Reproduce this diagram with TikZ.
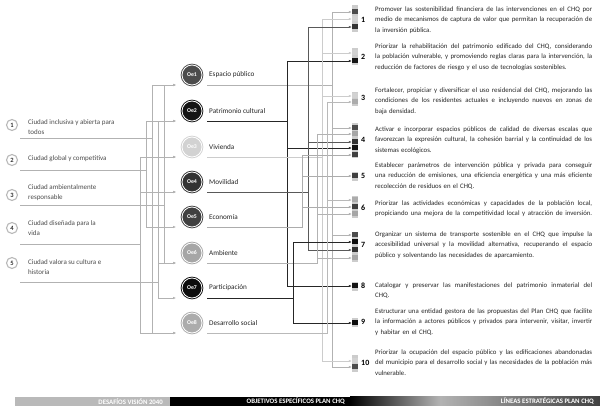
\documentclass[tikz,border=0pt]{standalone}
\usepackage{fontspec}
\setmainfont{Carlito}
\usetikzlibrary{arrows.meta}
\newcommand{\jlin}[1]{{\spaceskip=0pt\xspaceskip=0pt\makebox[217pt][s]{#1}}}
\colorlet{oc1}{black!70}
\colorlet{oc2}{black!92}
\colorlet{oc3}{gray!35}
\colorlet{oc4}{black!80}
\colorlet{oc5}{black!75}
\colorlet{oc6}{gray!70}
\colorlet{oc7}{black!95}
\colorlet{oc8}{gray!65}
\colorlet{lcol1}{gray!60}
\colorlet{lcol2}{black!85}
\colorlet{lcol3}{gray!40}
\colorlet{lcol4}{black!65}
\colorlet{lcol5}{gray!65}
\colorlet{lcol6}{gray!60}
\colorlet{lcol7}{black!85}
\colorlet{lcol8}{gray!55}
\begin{document}
\begin{tikzpicture}[x=1pt,y=-1pt,
 dcirc/.style={circle, draw=gray!55, line width=1.1pt, fill=white, minimum size=11pt, inner sep=0pt, font=\fontsize{6.5}{6.5}\selectfont\bfseries, text=black!80},
 dlab/.style={anchor=west, align=left, font=\fontsize{7}{10}\selectfont, text=black!70, inner sep=0pt},
 oec/.style={circle, fill=#1, draw=#1, line width=0.9pt, double=white, double distance=0.8pt, minimum size=20pt, inner sep=0pt, text=white, font=\fontsize{5.8}{6}\selectfont\bfseries},
 oelab/.style={anchor=west, font=\fontsize{7.2}{8}\selectfont, text=black!85, inner sep=0pt},
 bar/.style={rectangle, fill=gray!40, minimum width=6pt, inner sep=0pt},
 cell/.style={rectangle, fill=#1, minimum width=6pt, minimum height=5pt, inner sep=0pt},
 num/.style={anchor=west, font=\fontsize{8}{8}\selectfont\bfseries, inner sep=0pt},
 para/.style={anchor=north west, text width=218pt, align=left, font=\fontsize{6.8}{10.8}\selectfont, text=black!85, inner sep=0pt},
 bartxt/.style={anchor=east, font=\fontsize{6.8}{7}\selectfont\bfseries, text=white, inner sep=0pt},
 tip/.style={-{Latex[length=3pt,width=2.4pt]}},
 lc/.style={draw=#1, line width=0.45pt},
]
\fill[white] (0,0) rectangle (600,411);
\useasboundingbox (0,0) rectangle (600,411);

% ---- challenges (left)
\foreach \i/\y in {1/125,2/160,3/195,4/228,5/263}
  \node[dcirc] (dc\i) at (12,\y) {\i};
\node[dlab] (dt1) at (28,127) {Ciudad inclusiva y abierta para\\todos};
\node[dlab] (dt2) at (28,159) {Ciudad global y competitiva};
\node[dlab] (dt3) at (28,193) {Ciudad ambientalmente\\responsable};
\node[dlab] (dt4) at (28,228) {Ciudad diseñada para la\\vida};
\node[dlab] (dt5) at (28,267) {Ciudad valora su cultura e\\historia};
\foreach \d/\y/\x in {1/138/152, 2/170/146, 3/205/164, 4/244/140, 5/282/158} {
  \coordinate (ds\d) at (20,\y);
  \coordinate (lt\d) at (\x,0);
}

% ---- objectives (middle)
\foreach \i/\y/\lab in {1/75/Espacio público, 2/111/Patrimonio cultural, 3/147/Vivienda, 4/182/Movilidad, 5/217/Economía, 6/253/Ambiente, 7/288/Participación, 8/323/Desarrollo social} {
  \node[oec=oc\i] (oe\i) at (192,\y) {Oe\i};
  \node[oelab] (ol\i) at (209,\y) {\lab};
  \coordinate (os\i) at (207,\y+10);
  \coordinate (oi\i) at (176,\y+10);
}
\foreach \i/\x in {1/332,2/287,3/322,4/308,5/302,6/317,7/293,8/327}
  \coordinate (rt\i) at (\x,0);

% left connectors
\foreach \d/\o in {1/1,1/3,1/8,2/2,2/4,2/5,3/1,3/6,4/4,4/8,4/3,5/2,5/7,5/6}
  \draw[lc=gray!60, tip] (ds\d) -- (ds\d -| lt\d) |- (oi\o);

% ---- strategic lines (right)
\foreach \b/\y/\h in {1/18.5/27, 2/56.5/17, 3/99/14, 4/140.5/35, 5/176.5/9, 6/207/22, 7/247/30, 8/286.5/9, 9/322.5/9, 10/363.5/17}
  \node[bar, minimum height=\h pt] (b\b) at (355,\y) {};
\foreach \b/\y in {1/20,2/57,3/98,4/140,5/176,6/208,7/245,8/286,9/322,10/363}
  \node[num] (n\b) at (361,\y) {\b};

\foreach \o/\b/\t in {1/1/12, 1/4/128, 1/7/235, 1/10/367, 2/2/61, 2/4/148, 2/8/286, 3/1/19, 3/2/53, 3/3/96, 3/10/361, 4/1/27, 4/4/142, 4/7/250, 5/4/155, 5/5/176, 5/6/207, 6/4/134, 6/6/214, 6/7/258, 7/7/242, 7/9/323, 8/3/102, 8/6/200} {
  \node[cell=oc\o] (c\b-\t) at (355,\t) {};
  \draw[lc=lcol\o, tip] (os\o) -- (os\o -| rt\o) |- (c\b-\t.west);
}

\node[para] (p1) at (375,3.4) {\strut\jlin{Promover las sostenibilidad financiera de las intervenciones en el CHQ por}\\\jlin{medio de mecanismos de captura de valor que permitan la recuperación de}\\la inversión pública.};
\node[para] (p2) at (375,40.4) {\strut\jlin{Priorizar la rehabilitación del patrimonio edificado del CHQ, considerando}\\\jlin{la población vulnerable, y promoviendo reglas claras para la intervención, la}\\reducción de factores de riesgo y el uso de tecnologías sostenibles.};
\node[para] (p3) at (375,84.4) {\strut\jlin{Fortalecer, propiciar y diversificar el uso residencial del CHQ, mejorando las}\\\jlin{condiciones de los residentes actuales e incluyendo nuevos en zonas de}\\baja densidad.};
\node[para] (p4) at (375,123.4) {\strut\jlin{Activar e incorporar espacios públicos de calidad de diversas escalas que}\\\jlin{favorezcan la expresión cultural, la cohesión barrial y la continuidad de los}\\sistemas ecológicos.};
\node[para] (p5) at (375,159.4) {\strut\jlin{Establecer parámetros de intervención pública y privada para conseguir}\\\jlin{una reducción de emisiones, una eficiencia energética y una más eficiente}\\recolección de residuos en el CHQ.};
\node[para] (p6) at (375,197.4) {\strut\jlin{Priorizar las actividades económicas y capacidades de la población local,}\\\jlin{propiciando una mejora de la competitividad local y atracción de inversión.}};
\node[para] (p7) at (375,228.4) {\strut\jlin{Organizar un sistema de transporte sostenible en el CHQ que impulse la}\\\jlin{accesibilidad universal y la movilidad alternativa, recuperando el espacio}\\público y solventando las necesidades de aparcamiento.};
\node[para] (p8) at (375,279.4) {\strut\jlin{Catalogar y preservar las manifestaciones del patrimonio inmaterial del}\\CHQ.};
\node[para] (p9) at (375,305.4) {\strut\jlin{Estructurar una entidad gestora de las propuestas del Plan CHQ que facilite}\\\jlin{la información a actores públicos y privados para intervenir, visitar, invertir}\\y habitar en el CHQ.};
\node[para] (p10) at (375,346.4) {\strut\jlin{Priorizar la ocupación del espacio público y las edificaciones abandonadas}\\\jlin{del municipio para el desarrollo social y las necesidades de la población más}\\vulnerable.};

% ---- bottom bar
\fill[gray!55] (15,397) rectangle (170,406);
\fill[black] (170,397) rectangle (350,406);
\shade[left color=black, right color=gray!60] (350,397) rectangle (440,406);
\shade[left color=gray!60, right color=black!75] (440,397) rectangle (600,406);
\node[bartxt] (bt1) at (163,401.5) {DESAFÍOS VISIÓN 2040};
\node[bartxt] (bt2) at (345,401.5) {OBJETIVOS ESPECÍFICOS PLAN CHQ};
\node[bartxt] (bt3) at (594,401.5) {LÍNEAS ESTRATÉGICAS PLAN CHQ};
\end{tikzpicture}
\end{document}
